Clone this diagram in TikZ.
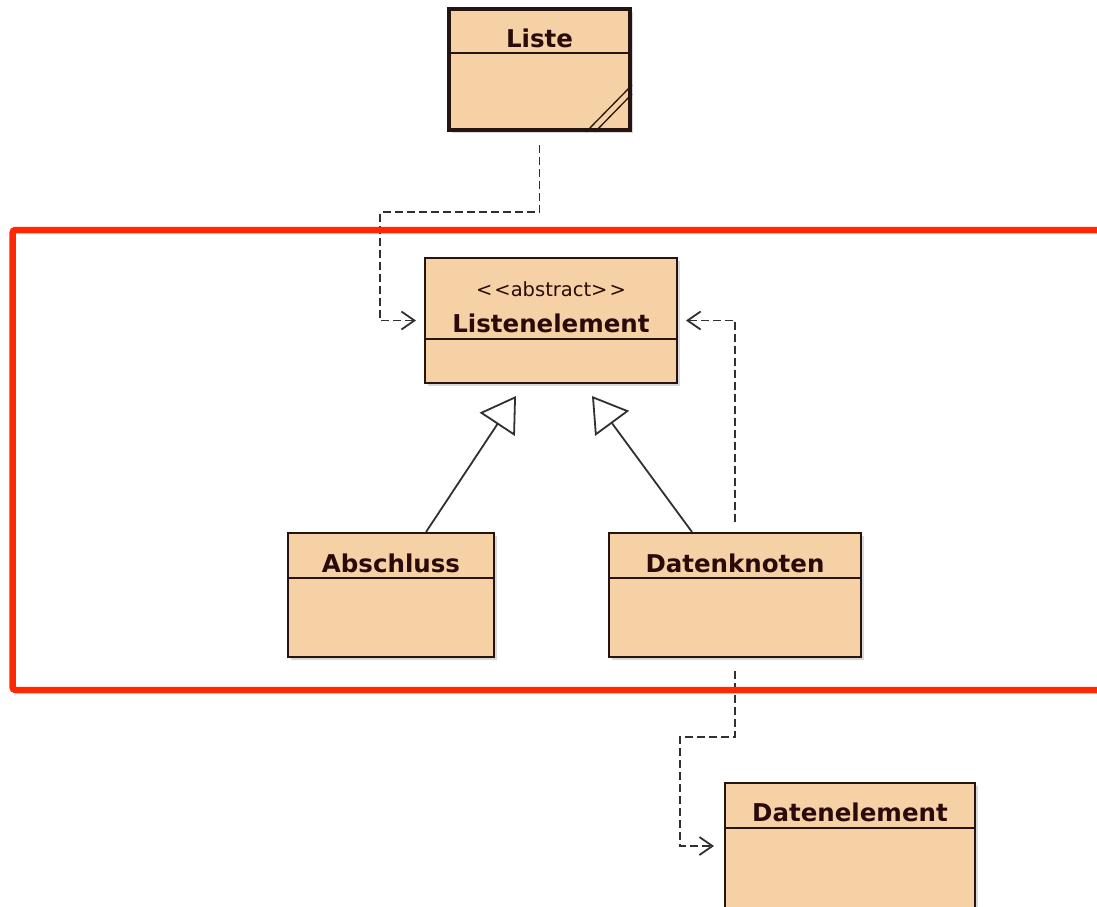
\documentclass[tikz,border=0pt]{standalone}
\usepackage{fontspec}
\setmainfont{DejaVu Sans}
\usetikzlibrary{arrows.meta,shadows,calc}

\definecolor{classfill}{RGB}{245,209,165}
\definecolor{classline}{RGB}{38,20,16}
\definecolor{classtext}{RGB}{42,10,10}
\definecolor{connline}{RGB}{48,48,48}
\definecolor{framered}{RGB}{255,40,0}

\begin{document}
\begin{tikzpicture}[x=1pt,y=-1pt,
  classbox/.style={rectangle, draw=classline, fill=classfill, line width=2pt,
    inner sep=0pt,
    drop shadow={shadow xshift=2.5pt, shadow yshift=-2.5pt, opacity=0.3}},
  divider/.style={draw=classline, line width=2pt},
  classname/.style={anchor=base, inner sep=0pt, text=classtext,
    font=\fontsize{24.5}{28}\selectfont\bfseries},
  stereotype/.style={anchor=base, inner sep=0pt, text=classtext,
    font=\fontsize{19.5}{22}\selectfont},
  dependency/.style={draw=connline, line width=1.8pt,
    dash pattern=on 8pt off 4pt,
    -{Straight Barb[length=13pt, width=18pt, line width=1.8pt]}},
  generalization/.style={draw=connline, line width=1.8pt,
    -{Triangle[open, length=34pt, width=42pt, line width=1.8pt, fill=white]}},
  redframe/.style={draw=framered, line width=6.5pt, rounded corners=3pt}
]
\useasboundingbox (0,0) rectangle (1097,906);
\fill[white] (0,0) rectangle (1097,906);

% ---- class Liste (thick border, with the shortcut mark) ----
\node[classbox, line width=4pt, minimum width=181pt, minimum height=121pt]
  (liste) at (539.5,69.5) {};
\draw[divider] (liste.west |- 0,53) -- (liste.east |- 0,53);
\node[classname] (listeName) at (539.5,47) {Liste};
\draw[draw=classline, line width=1.3pt]
  ([xshift=-46pt]liste.south east) -- ([yshift=47pt]liste.south east);
\draw[draw=classline, line width=1.3pt]
  ([xshift=-37pt]liste.south east) -- ([yshift=38pt]liste.south east);

% ---- abstract class Listenelement ----
\node[classbox, minimum width=252pt, minimum height=125pt]
  (listenelement) at (551,320.5) {};
\draw[divider] (listenelement.west |- 0,339) -- (listenelement.east |- 0,339);
\node[stereotype] (abstractTag) at (551,296)
  {{<}\kern2pt{<}abstract{>}\kern2pt{>}};
\node[classname] (listenelementName) at (551,332) {Listenelement};

% ---- class Abschluss ----
\node[classbox, minimum width=206pt, minimum height=124pt]
  (abschluss) at (391,595) {};
\draw[divider] (abschluss.west |- 0,578) -- (abschluss.east |- 0,578);
\node[classname] (abschlussName) at (391,572) {Abschluss};

% ---- class Datenknoten ----
\node[classbox, minimum width=252pt, minimum height=124pt]
  (datenknoten) at (735,595) {};
\draw[divider] (datenknoten.west |- 0,578) -- (datenknoten.east |- 0,578);
\node[classname] (datenknotenName) at (735,572) {Datenknoten};

% ---- class Datenelement ----
\node[classbox, minimum width=250pt, minimum height=126pt]
  (datenelement) at (850,846) {};
\draw[divider] (datenelement.west |- 0,828) -- (datenelement.east |- 0,828);
\node[classname] (datenelementName) at (850,821) {Datenelement};

% ---- generalizations ----
\draw[generalization] ([xshift=139pt]abschluss.north west)
  -- ([xshift=92pt, yshift=-12pt]listenelement.south west);
\draw[generalization] ([xshift=84pt]datenknoten.north west)
  -- ([xshift=168pt, yshift=-12pt]listenelement.south west);

% ---- dependencies ----
\draw[dependency, shorten <=13pt, shorten >=8pt]
  (liste.south) |- (380,212) |- (listenelement.west);
\draw[dependency, shorten <=10pt, shorten >=8pt]
  (datenknoten.north) |- (listenelement.east);
\draw[dependency, shorten <=13pt, shorten >=10pt]
  (datenknoten.south) |- (680,737) |- (datenelement.west);

% ---- highlight frame ----
\draw[redframe] (12.5,230) rectangle (1120,690);
\end{tikzpicture}
\end{document}
